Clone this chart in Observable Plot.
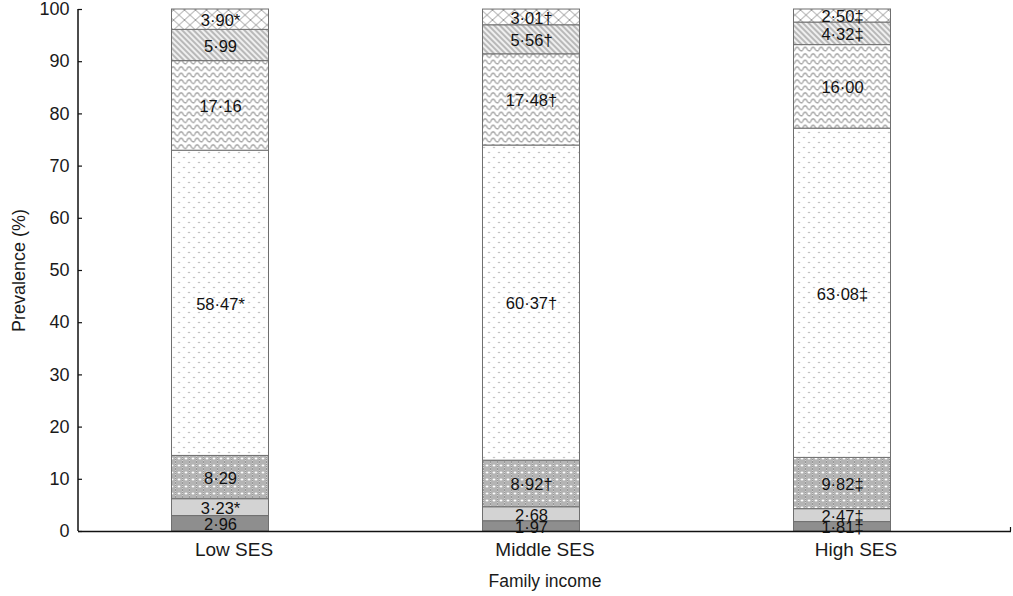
<!DOCTYPE html>
<html>
<head>
<meta charset="utf-8">
<script src="https://cdn.jsdelivr.net/npm/d3@7"></script>
<script src="https://cdn.jsdelivr.net/npm/@observablehq/plot@0.6"></script>
<style>
  html, body { margin: 0; padding: 0; background: #fff; }
  #chart svg { display: block; }
</style>
</head>
<body>
<div id="chart"></div>
<script>
// ---- data ----
const groups = ["Low SES", "Middle SES", "High SES"];
const segments = ["s1", "s2", "s3", "s4", "s5", "s6", "s7"]; // bottom to top
const lowValues = [2.96, 3.23, 8.29, 58.47, 17.16, 5.99, 3.90];
const middleValues = [1.97, 2.68, 8.92, 60.37, 17.48, 5.56, 3.01];
const highValues = [1.81, 2.47, 9.82, 63.08, 16.00, 4.32, 2.50];
const lowMarks = ["", "*", "", "*", "", "", "*"];
const middleMarks = ["", "", "†", "†", "†", "†", "†"];
const highMarks = ["‡", "‡", "‡", "‡", "", "‡", "‡"];
const yTicks = [0, 10, 20, 30, 40, 50, 60, 70, 80, 90, 100];
const xLabel = "Family income";
const yLabel = "Prevalence (%)";

const seriesValues = [lowValues, middleValues, highValues];
const seriesMarks = [lowMarks, middleMarks, highMarks];
const rows = [];
groups.forEach((g, gi) => {
  segments.forEach((s, si) => {
    const v = seriesValues[gi][si];
    rows.push({group: g, segment: s, value: v,
      label: v.toFixed(2).replace(".", "·") + seriesMarks[gi][si]});
  });
});

const fills = ["#8e8e8e", "#d3d3d3", "url(#pDense)", "url(#pDots)", "url(#pWave)", "url(#pDiag)", "url(#pLattice)"];

const W = 1013, H = 596, ML = 78, MR = 2;
const barShift = -13.5;
const chart = Plot.plot({
  width: W,
  height: H,
  marginLeft: ML,
  marginRight: MR,
  marginTop: 9,
  marginBottom: 65,
  style: {fontFamily: "'Liberation Sans', Arial, sans-serif", fontSize: "18px", color: "#1a1a1a", background: "#fff"},
  x: {domain: groups, paddingInner: 0.688, paddingOuter: 0.344, label: null},
  y: {domain: [0, 100], label: null},
  color: {domain: segments, range: fills},
  marks: [
    Plot.barY(rows, {x: "group", y: "value", fill: "segment", stroke: "#6f6f6f", strokeWidth: 1, dx: barShift}),
    Plot.text(rows, Plot.stackY({x: "group", y: "value", text: "label", fontSize: 16.5, fill: "#111", dx: barShift, dy: 1})),
    Plot.axisY(yTicks, {tickSize: 0, tickPadding: 9, fontSize: 18, label: yLabel, labelAnchor: "center", labelArrow: "none", labelOffset: 66}),
    Plot.tickY(yTicks, {y: d => d, insetRight: W - ML - MR - 4, stroke: "#111", strokeWidth: 1.2}),
    Plot.axisX({tickSize: 0, tickPadding: 11, fontSize: 19, label: null}),
    Plot.ruleY([0], {stroke: "#111", strokeWidth: 1.5}),
    Plot.text([xLabel], {frameAnchor: "bottom", dy: 55, fontSize: 17.5, fill: "#1a1a1a"})
  ]
});

// y axis line and right-end tick of the x axis line
const svg = d3.select(chart);
svg.append("line").attr("x1", ML).attr("x2", ML).attr("y1", 9).attr("y2", H - 65)
  .attr("stroke", "#111").attr("stroke-width", 1.5);
svg.append("line").attr("x1", W - MR - 0.5).attr("x2", W - MR - 0.5).attr("y1", H - 65).attr("y2", H - 69)
  .attr("stroke", "#111").attr("stroke-width", 1.2);

// pattern definitions
const defs = svg.insert("defs", ":first-child");
const pc = defs.append("pattern").attr("id", "pChecker").attr("patternUnits", "userSpaceOnUse").attr("width", 2).attr("height", 2);
pc.append("rect").attr("width", 2).attr("height", 2).attr("fill", "#d0d0d0");
pc.append("rect").attr("width", 1).attr("height", 1).attr("fill", "#979797");
pc.append("rect").attr("x", 1).attr("y", 1).attr("width", 1).attr("height", 1).attr("fill", "#979797");

const pd = defs.append("pattern").attr("id", "pDense").attr("patternUnits", "userSpaceOnUse").attr("width", 7).attr("height", 7);
pd.append("rect").attr("width", 7).attr("height", 7).attr("fill", "url(#pChecker)");
pd.append("path").attr("d", "M2,3.5H5M3.5,2V5").attr("stroke", "#fff").attr("stroke-width", 1.1);

const pdots = defs.append("pattern").attr("id", "pDots").attr("patternUnits", "userSpaceOnUse").attr("width", 10).attr("height", 10);
pdots.append("rect").attr("width", 10).attr("height", 10).attr("fill", "#fff");
pdots.append("circle").attr("cx", 2.5).attr("cy", 2.5).attr("r", 0.8).attr("fill", "#a0a0a0");
pdots.append("circle").attr("cx", 7.5).attr("cy", 7.5).attr("r", 0.8).attr("fill", "#a0a0a0");

const pw = defs.append("pattern").attr("id", "pWave").attr("patternUnits", "userSpaceOnUse").attr("width", 8).attr("height", 6.5);
pw.append("rect").attr("width", 8).attr("height", 6.5).attr("fill", "#fff");
pw.append("path").attr("d", "M0,4.8 Q2,0.2 4,2.5 Q6,6.8 8,4.8")
  .attr("fill", "none").attr("stroke", "#8a8a8a").attr("stroke-width", 1);

const pdg = defs.append("pattern").attr("id", "pDiag").attr("patternUnits", "userSpaceOnUse").attr("width", 4).attr("height", 4).attr("patternTransform", "rotate(-45)");
pdg.append("rect").attr("width", 4).attr("height", 4).attr("fill", "#efefef");
pdg.append("line").attr("x1", 1).attr("x2", 1).attr("y1", 0).attr("y2", 4).attr("stroke", "#949494").attr("stroke-width", 1.2);

const pl = defs.append("pattern").attr("id", "pLattice").attr("patternUnits", "userSpaceOnUse").attr("width", 11).attr("height", 10);
pl.append("rect").attr("width", 11).attr("height", 10).attr("fill", "#fff");
pl.append("path").attr("d", "M0,0L11,10M11,0L0,10").attr("stroke", "#9a9a9a").attr("stroke-width", 1);

document.getElementById("chart").appendChild(chart);
</script>
</body>
</html>
